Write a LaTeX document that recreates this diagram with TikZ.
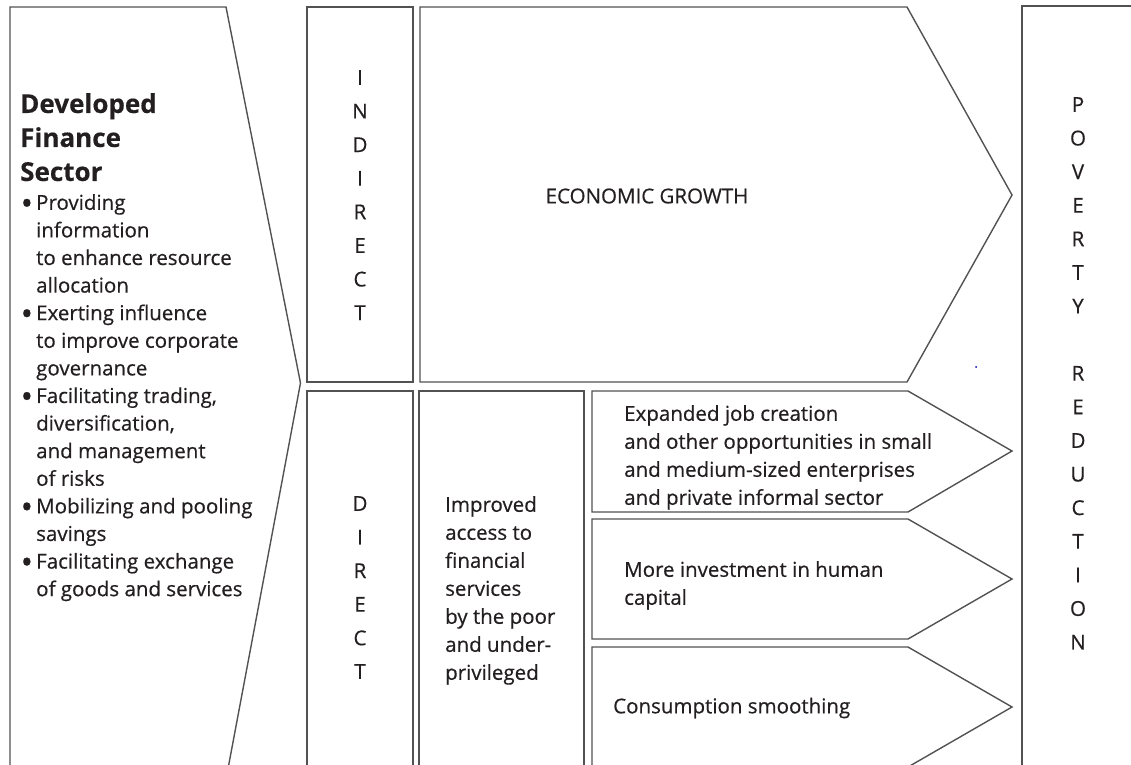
\documentclass[tikz,border=0pt]{standalone}
\usepackage{fontspec}
\setmainfont{Open Sans}[UprightFeatures={FakeBold=0.5},BoldFeatures={FakeBold=0.4}]
\definecolor{ink}{HTML}{231F20}
\newcommand\bulletmark{\makebox[14pt][l]{\hspace*{-1.5pt}\raisebox{-5pt}{\scalebox{1.6}{\textbullet}}}}
\newcommand\indentmark{\hspace*{14pt}}
\begin{document}
\begin{tikzpicture}[x=1pt,y=-1pt,
  frame/.style={draw=black!68,line width=1.4pt,line join=miter},
  body/.style={font=\fontsize{20.5}{27.6}\selectfont,text=ink,inner sep=0pt,align=left},
  letters/.style={font=\fontsize{20.5}{33.6}\selectfont,text=ink,inner sep=0pt,align=center}]
\useasboundingbox (0,0) rectangle (1131,764);
\clip (0,0) rectangle (1131,764);
% left pentagon: finance sector
\draw[frame] (10,790) -- (10,7) -- (226,7) -- (300.5,383) -- (224,790);
% indirect column and economic growth arrow
\draw[frame] (307,7) rectangle (413,382);
\draw[frame] (420,382) -- (420,7) -- (907,7) -- (1012,195) -- (907,382) -- cycle;
% direct column and access box
\draw[frame] (307,790) -- (307,391) -- (413,391) -- (413,790);
\draw[frame] (419,790) -- (419,391) -- (584,391) -- (584,790);
% three channel arrows
\draw[frame] (592,512) -- (592,391) -- (908,391) -- (1012,451) -- (908,512) -- cycle;
\draw[frame] (592,639) -- (592,519) -- (908,519) -- (1012,579) -- (908,639) -- cycle;
\draw[frame] (592,790) -- (592,647) -- (908,647) -- (1012,707) -- (908,767);
% poverty reduction column
\draw[frame] (1022,790) -- (1022,6) -- (1140,6);
\fill[blue!70!black] (976,367) circle (1pt);

% texts
\node[anchor=north west,inner sep=0pt,align=left,text=ink,
  font=\bfseries\fontsize{26}{34}\selectfont] (head) at (20,93)
  {Developed\\Finance\\Sector};
\node[body,anchor=north west] (list) at (22,194)
  {\bulletmark Providing\\
   \indentmark information\\
   \indentmark to enhance resource\\
   \indentmark allocation\\
   \bulletmark Exerting influence\\
   \indentmark to improve corporate\\
   \indentmark governance\\
   \bulletmark Facilitating trading,\\
   \indentmark diversification,\\
   \indentmark and management\\
   \indentmark of risks\\
   \bulletmark Mobilizing and pooling\\
   \indentmark savings\\
   \bulletmark Facilitating exchange\\
   \indentmark of goods and services};
\node[letters,anchor=north] (indirect) at (360,70) {I\\N\\D\\I\\R\\E\\C\\T};
\node[letters,anchor=north] (direct) at (360,496) {D\\I\\R\\E\\C\\T};
\node[letters,anchor=north] (poverty) at (1078,97)
  {P\\O\\V\\E\\R\\T\\Y\\[33.6pt]R\\E\\D\\U\\C\\T\\I\\O\\N};
\node[body] (growth) at (647,196) {ECONOMIC GROWTH};
\node[body,anchor=north west,font=\fontsize{20.5}{28}\selectfont] (access) at (445,496)
  {Improved\\access to\\financial\\services\\by the poor\\and under-\\privileged};
\node[body,anchor=north west,font=\fontsize{20.5}{28}\selectfont] (jobs) at (624,405)
  {Expanded job creation\\and other opportunities in small\\and medium-sized enterprises\\and private informal sector};
\node[body,anchor=north west,font=\fontsize{20.5}{28}\selectfont] (human) at (624,561)
  {More investment in human\\capital};
\node[body,anchor=west] (smooth) at (613,708) {Consumption smoothing};
\end{tikzpicture}
\end{document}
